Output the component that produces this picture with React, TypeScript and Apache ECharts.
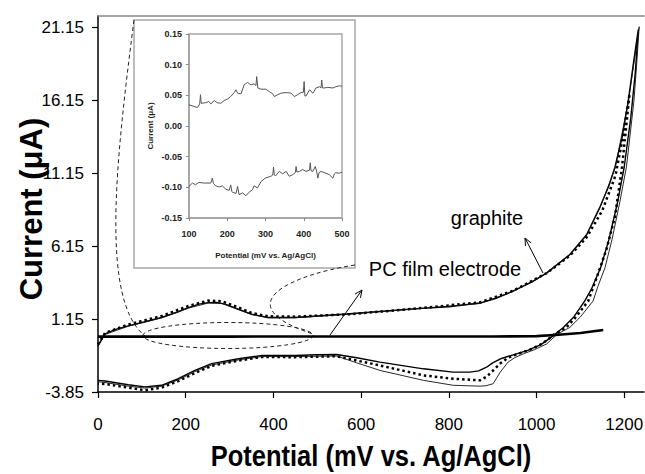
import React, { useEffect, useRef } from "react";
import * as echarts from "echarts";

// ---------- data ----------
const xTicks = [0, 200, 400, 600, 800, 1000, 1200];
const yTicks = [-3.85, 1.15, 6.15, 11.15, 16.15, 21.15];

// graphite CV, run 1 (solid)
const graphiteSolid: [number, number][] = [
  [0, -0.67], [16, 0.13], [40, 0.45], [69, 0.69], [105, 0.95], [145, 1.26], [180, 1.62], [206, 1.94],
  [230, 2.18], [251, 2.28], [270, 2.3], [290, 2.18], [320, 1.83], [350, 1.49], [388, 1.26], [449, 1.26],
  [567, 1.5], [718, 1.85], [800, 2.0], [871, 2.25], [910, 2.6], [947, 3.08], [990, 3.7], [1023, 4.32],
  [1076, 5.58], [1114, 6.94], [1145, 8.87], [1165, 10.3], [1179, 11.6], [1195, 13.6], [1209, 16.1],
  [1220, 18.5], [1228, 20.2], [1232, 21.0],
  [1225, 18.0], [1215, 15.0], [1200, 11.6], [1185, 9.2], [1165, 6.6], [1146, 4.67], [1125, 3.2],
  [1110, 2.4], [1085, 1.3], [1061, 0.58], [1040, 0.05], [1010, -0.6], [980, -1.0], [947, -1.3],
  [920, -1.55], [900, -1.85], [886, -2.15], [868, -2.4], [848, -2.49], [810, -2.49], [742, -2.26],
  [643, -1.8], [590, -1.5], [544, -1.28], [500, -1.3], [449, -1.35], [373, -1.35], [320, -1.57],
  [259, -1.9], [221, -2.37], [183, -2.94], [145, -3.39], [107, -3.5], [69, -3.35], [16, -3.1], [0, -3.05],
];

// graphite CV, run 2 (dotted)
const graphiteDotted: [number, number][] = [
  [0, -0.6], [16, 0.2], [69, 0.78], [145, 1.36], [206, 2.05], [251, 2.42], [282, 2.38], [320, 1.95],
  [350, 1.57], [388, 1.34], [449, 1.32], [567, 1.47], [718, 1.85], [871, 2.3], [947, 3.1], [1023, 4.3],
  [1076, 5.5], [1114, 6.75], [1150, 8.6], [1180, 11.0], [1198, 13.8], [1212, 16.6],
  [1195, 11.6], [1179, 8.2], [1160, 6.0], [1145, 4.67], [1118, 2.4], [1090, 1.3], [1068, 0.58],
  [1042, 0.13], [1012, -0.55], [985, -0.95], [958, -1.23], [935, -1.5], [917, -1.9], [900, -2.4],
  [886, -2.8], [871, -3.05], [810, -2.94], [742, -2.71], [643, -2.03], [544, -1.4], [449, -1.46],
  [373, -1.45], [320, -1.7], [259, -2.05], [221, -2.55], [183, -3.1], [145, -3.55], [107, -3.73],
  [69, -3.55], [16, -3.3], [0, -3.28],
];

// graphite CV, run 3 (thin)
const graphiteThin: [number, number][] = [
  [0, -0.7], [16, 0.1], [69, 0.66], [145, 1.24], [206, 1.9], [251, 2.25], [282, 2.22], [320, 1.8],
  [350, 1.46], [388, 1.24], [449, 1.24], [567, 1.48], [718, 1.83], [871, 2.22], [947, 3.05], [1023, 4.28],
  [1076, 5.55], [1114, 6.9], [1145, 8.8], [1179, 11.5], [1209, 16.0], [1234, 21.2],
  [1228, 18.5], [1222, 16.1], [1205, 11.6], [1190, 9.2], [1172, 6.6], [1156, 4.67], [1140, 3.4],
  [1129, 2.4], [1100, 1.3], [1076, 0.58], [1048, 0.13], [1023, -0.55], [995, -0.95], [970, -1.23],
  [950, -1.5], [935, -1.8], [917, -2.5], [901, -3.28], [885, -3.42], [871, -3.45], [810, -3.39],
  [742, -3.05], [643, -2.37], [590, -1.85], [544, -1.38], [449, -1.42], [373, -1.42], [320, -1.65],
  [259, -2.0], [221, -2.45], [183, -3.02], [145, -3.45], [107, -3.58], [69, -3.45], [16, -3.2], [0, -3.15],
];

// PC film electrode (flat)
const pcFilm: [number, number][] = [
  [0, -0.05], [300, -0.05], [600, -0.04], [900, -0.04], [1000, -0.02], [1050, 0.08], [1100, 0.2], [1152, 0.4],
];

// inset: PC film electrode, zoomed
const insetUpper: [number, number][] = [
  [100, 0.0345], [113, 0.032], [122, 0.03], [128, 0.036], [130, 0.051], [132, 0.037], [144, 0.038],
  [152, 0.04], [157, 0.036], [166, 0.0415], [174, 0.038], [183, 0.037], [192, 0.0415], [201, 0.044],
  [209, 0.048], [218, 0.0545], [223, 0.059], [227, 0.0535], [236, 0.0525], [244, 0.067], [253, 0.071],
  [262, 0.067], [270, 0.0687], [275, 0.066], [277, 0.0806], [280, 0.062], [288, 0.06], [301, 0.06],
  [310, 0.056], [319, 0.0525], [323, 0.048], [332, 0.051], [340, 0.0535], [354, 0.0545], [367, 0.0535],
  [375, 0.048], [384, 0.051], [393, 0.0545], [399, 0.055], [401, 0.0725], [403, 0.049], [406, 0.049],
  [415, 0.059], [424, 0.0535], [432, 0.062], [441, 0.064], [445, 0.062], [447, 0.075], [449, 0.062],
  [454, 0.062], [463, 0.063], [476, 0.062], [484, 0.064], [493, 0.0655], [500, 0.065],
];
const insetLower: [number, number][] = [
  [100, -0.0985], [109, -0.093], [117, -0.0958], [126, -0.092], [139, -0.093], [157, -0.093],
  [161, -0.085], [164, -0.094], [170, -0.0975], [179, -0.0995], [187, -0.0975], [196, -0.103],
  [205, -0.105], [209, -0.096], [212, -0.107], [214, -0.108], [223, -0.11], [227, -0.0985],
  [231, -0.112], [240, -0.109], [249, -0.1137], [257, -0.108], [266, -0.104], [270, -0.0975],
  [279, -0.101], [288, -0.091], [299, -0.085], [314, -0.082], [319, -0.08], [321, -0.067], [323, -0.08],
  [327, -0.081], [336, -0.074], [345, -0.078], [354, -0.074], [362, -0.082], [371, -0.0795],
  [378, -0.076], [380, -0.066], [382, -0.075], [389, -0.074], [397, -0.071], [406, -0.074],
  [415, -0.072], [417, -0.06], [419, -0.073], [424, -0.074], [430, -0.066], [433, -0.072],
  [437, -0.085], [440, -0.076], [445, -0.074], [458, -0.077], [467, -0.0795], [476, -0.085],
  [480, -0.078], [484, -0.076], [493, -0.077], [500, -0.075],
];

const FONT = "'Liberation Sans', Arial, Helvetica, sans-serif";

function arrow(x1: number, y1: number, x2: number, y2: number) {
  const dx = x2 - x1, dy = y2 - y1;
  const len = Math.sqrt(dx * dx + dy * dy);
  const ux = dx / len, uy = dy / len;
  const h = 8, a = 0.42;
  const c = Math.cos(a), s = Math.sin(a);
  const p1 = [x2 - h * (ux * c - uy * s), y2 - h * (uy * c + ux * s)];
  const p2 = [x2 - h * (ux * c + uy * s), y2 - h * (uy * c - ux * s)];
  return [
    { type: "line", z: 10, shape: { x1, y1, x2, y2 }, style: { stroke: "#000", lineWidth: 1 } },
    { type: "polyline", z: 10, shape: { points: [p1, [x2, y2], p2] }, style: { stroke: "#000", lineWidth: 1, fill: null } },
  ];
}

export default function App() {
  const ref = useRef<HTMLDivElement>(null);
  useEffect(() => {
    if (!ref.current) return;
    const chart = echarts.init(ref.current, null, { renderer: "svg" });
    const dash = { stroke: "#222", lineWidth: 1, lineDash: [4, 3], fill: null };
    const option: any = {
      animation: false,
      backgroundColor: "#fff",
      grid: [
        { left: 98, right: 1, top: 16, bottom: 82, outerBoundsMode: "none", containLabel: false },
        { left: 189, right: 303, top: 34, bottom: 256, outerBoundsMode: "none", containLabel: false, show: true, borderColor: "#a8a8a8", borderWidth: 1.5, z: 3 },
      ],
      xAxis: [
        {
          gridIndex: 0, type: "value", min: 0, max: 1245,
          axisLine: { show: true, onZero: false, lineStyle: { color: "#000", width: 1.5 } },
          axisTick: { show: true, length: 6, customValues: xTicks, lineStyle: { color: "#000", width: 1.2 } },
          axisLabel: { customValues: xTicks, margin: 24, fontFamily: FONT, fontSize: 17, color: "#000", formatter: (v: number) => String(v) },
          splitLine: { show: false },
        },
        {
          gridIndex: 0, type: "value", min: 0, max: 1245, position: "top",
          axisLine: { show: true, onZero: false, lineStyle: { color: "#888", width: 1.5 } },
          axisTick: { show: false }, axisLabel: { show: false }, splitLine: { show: false },
        },
        {
          gridIndex: 1, type: "value", min: 100, max: 500, interval: 100, z: 3,
          name: "Potential (mV vs. Ag/AgCl)", nameLocation: "middle", nameGap: 33,
          nameTextStyle: { fontFamily: FONT, fontWeight: "bold", fontSize: 8, color: "#222" },
          axisLine: { show: true, onZero: false, lineStyle: { color: "#a0a0a0", width: 1.5 } },
          axisTick: { show: true, length: 3, lineStyle: { color: "#888" } },
          axisLabel: { margin: 11, fontFamily: FONT, fontWeight: "bold", fontSize: 9, color: "#222" },
          splitLine: { show: false },
        },
      ],
      yAxis: [
        {
          gridIndex: 0, type: "value", min: -3.85, max: 21.94,
          axisLine: { show: true, onZero: false, lineStyle: { color: "#000", width: 1.5 } },
          axisTick: { show: true, length: 6, customValues: yTicks, lineStyle: { color: "#000", width: 1.2 } },
          axisLabel: { customValues: yTicks, margin: 14, fontFamily: FONT, fontSize: 17, color: "#000", formatter: (v: number) => v.toFixed(2) },
          splitLine: { show: false },
        },
        {
          gridIndex: 1, type: "value", min: -0.15, max: 0.15, interval: 0.05, z: 3,
          name: "Current (μA)", nameLocation: "middle", nameGap: 35,
          nameTextStyle: { fontFamily: FONT, fontWeight: "bold", fontSize: 8, color: "#222" },
          axisLine: { show: true, onZero: false, lineStyle: { color: "#a0a0a0", width: 1.5 } },
          axisTick: { show: true, length: 3, lineStyle: { color: "#888" } },
          axisLabel: { margin: 7, fontFamily: FONT, fontWeight: "bold", fontSize: 9, color: "#222", formatter: (v: number) => v.toFixed(2) },
          splitLine: { show: false },
        },
      ],
      series: [
        { name: "graphite 1", type: "line", xAxisIndex: 0, yAxisIndex: 0, data: graphiteSolid, showSymbol: false, symbol: "none", lineStyle: { color: "#000", width: 1.4 } },
        { name: "graphite 2", type: "line", xAxisIndex: 0, yAxisIndex: 0, data: graphiteDotted, showSymbol: false, symbol: "none", lineStyle: { color: "#000", width: 2.5, type: [2.5, 3] } },
        { name: "graphite 3", type: "line", xAxisIndex: 0, yAxisIndex: 0, data: graphiteThin, showSymbol: false, symbol: "none", lineStyle: { color: "#111", width: 0.9 } },
        { name: "PC film", type: "line", xAxisIndex: 0, yAxisIndex: 0, data: pcFilm, showSymbol: false, symbol: "none", lineStyle: { color: "#000", width: 2.6 } },
        { name: "inset upper", type: "line", xAxisIndex: 2, yAxisIndex: 1, z: 5, data: insetUpper, showSymbol: false, symbol: "none", lineStyle: { color: "#555", width: 1 } },
        { name: "inset lower", type: "line", xAxisIndex: 2, yAxisIndex: 1, z: 5, data: insetLower, showSymbol: false, symbol: "none", lineStyle: { color: "#555", width: 1 } },
      ],
      graphic: [
        { type: "rect", z: 1, shape: { x: 134, y: 20, width: 221, height: 248 }, style: { fill: "#fff", stroke: "#a8a8a8", lineWidth: 1.5 } },
        { type: "ellipse", z: 2, shape: { cx: 228, cy: 335.5, rx: 85, ry: 13 }, style: dash },
        { type: "bezierCurve", z: 2, shape: { x1: 134, y1: 20, cpx1: 116, cpy1: 160, cpx2: 100, cpy2: 300, x2: 145, y2: 336 }, style: dash },
        { type: "bezierCurve", z: 2, shape: { x1: 355, y1: 265, cpx1: 290, cpy1: 275, cpx2: 225, cpy2: 305, x2: 313, y2: 334 }, style: dash },
        { type: "text", z: 10, x: 487, y: 218, style: { text: "graphite", fontFamily: FONT, fontSize: 20, fill: "#000", align: "center", verticalAlign: "middle" } },
        { type: "text", z: 10, x: 445, y: 269, style: { text: "PC film electrode", fontFamily: FONT, fontSize: 20, fill: "#000", align: "center", verticalAlign: "middle" } },
        { type: "text", z: 10, x: 371, y: 456, scaleX: 0.85, style: { text: "Potential (mV vs. Ag/AgCl)", fontFamily: FONT, fontWeight: "bold", fontSize: 30, fill: "#000", align: "center", verticalAlign: "middle" } },
        { type: "text", z: 10, x: 31, y: 209, rotation: Math.PI / 2, style: { text: "Current (μA)", fontFamily: FONT, fontWeight: "bold", fontSize: 31, fill: "#000", align: "center", verticalAlign: "middle" } },
        ...arrow(543, 273, 525, 238),
        ...arrow(330, 335, 362, 290),
      ],
    };
    chart.setOption(option);
    return () => chart.dispose();
  }, []);
  return (
    <div
      ref={ref}
      style={{ position: "fixed", left: 0, top: 0, width: 645, height: 474, background: "#fff" }}
    />
  );
}
